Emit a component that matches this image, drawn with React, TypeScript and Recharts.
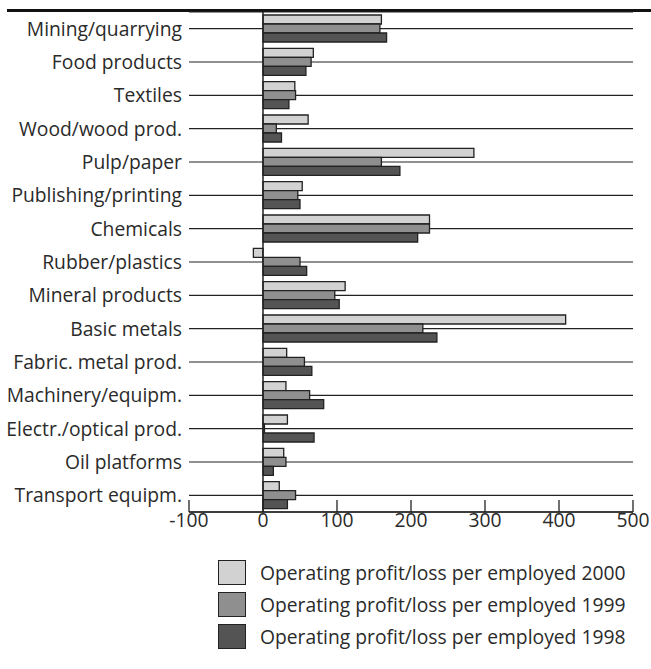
import { Bar, BarChart, CartesianGrid, Legend, ReferenceLine, XAxis, YAxis } from "recharts"

const industries = [
  "Mining/quarrying",
  "Food products",
  "Textiles",
  "Wood/wood prod.",
  "Pulp/paper",
  "Publishing/printing",
  "Chemicals",
  "Rubber/plastics",
  "Mineral products",
  "Basic metals",
  "Fabric. metal prod.",
  "Machinery/equipm.",
  "Electr./optical prod.",
  "Oil platforms",
  "Transport equipm.",
]

const profit2000 = [160, 68, 43, 61, 285, 53, 225, -13, 111, 409, 32, 31, 33, 28, 22]
const profit1999 = [158, 65, 44, 18, 160, 47, 225, 50, 97, 216, 56, 63, 2, 31, 44]
const profit1998 = [167, 58, 35, 25, 185, 50, 209, 59, 103, 235, 66, 82, 69, 14, 33]

const xTicks = [-100, 0, 100, 200, 300, 400, 500]

const data = industries.map((name, i) => ({
  name,
  p2000: profit2000[i],
  p1999: profit1999[i],
  p1998: profit1998[i],
}))

const FONT = "'Open Sans', 'Noto Sans', sans-serif"
const INK = "#222"
const TEXT = "#2a2a2a"
const FS = 19.3

function XTick({ x, y, payload }: any) {
  return (
    <g>
      <line x1={x} x2={x} y1={y - 2} y2={y - 14} stroke={INK} strokeWidth={1.3} />
      <text x={x} y={y} dy="0.68em" textAnchor="middle" fontSize={FS} fill={TEXT} fontFamily={FONT}>
        {payload.value}
      </text>
    </g>
  )
}

// recharts lists vertical bars bottom-up in the legend; the original goes 2000 → 1998
function LegendBox({ payload }: any) {
  const items = [...(payload || [])].sort((a: any, b: any) => (a.value < b.value ? 1 : -1))
  return (
    <div style={{ fontFamily: FONT, fontSize: FS, color: TEXT }}>
      {items.map((p: any) => (
        <div key={p.value} style={{ display: "flex", alignItems: "center", height: 32 }}>
          <span
            style={{
              display: "inline-block",
              width: 26,
              height: 23,
              background: p.color,
              border: `1.3px solid ${INK}`,
              marginRight: 14,
            }}
          />
          {p.value}
        </div>
      ))}
    </div>
  )
}

export default function App() {
  return (
    <div style={{ position: "absolute", left: 0, top: 0, width: 651, height: 669, background: "#fff" }}>
      <div style={{ position: "absolute", left: 7, right: 0, top: 9, height: 3, background: "#111" }} />
      <BarChart
        width={651}
        height={669}
        data={data}
        layout="vertical"
        margin={{ top: 12, right: 18, left: 0, bottom: 127 }}
        barCategoryGap="9%"
        barGap={0}
      >
        <CartesianGrid horizontal vertical={false} stroke={INK} strokeWidth={1.2} />
        <XAxis
          type="number"
          domain={[-100, 500]}
          ticks={xTicks}
          interval={0}
          height={30}
          tickSize={0}
          tickMargin={2}
          tickLine={false}
          axisLine={{ stroke: INK, strokeWidth: 1.5 }}
          tick={<XTick />}
        />
        <YAxis
          type="category"
          dataKey="name"
          width={189}
          interval={0}
          tickSize={0}
          tickMargin={7}
          tickLine={false}
          axisLine={false}
          tick={{ fontSize: FS, fill: TEXT, fontFamily: FONT }}
        />
        <ReferenceLine x={0} stroke={INK} strokeWidth={1.5} />
        <Legend
          layout="horizontal"
          verticalAlign="middle"
          align="center"
          wrapperStyle={{ top: 556, left: 218, width: "auto" }}
          content={<LegendBox />}
        />
        <Bar
          dataKey="p2000"
          name="Operating profit/loss per employed 2000"
          fill="#d2d2d2"
          stroke={INK}
          strokeWidth={1.3}
          isAnimationActive={false}
        />
        <Bar
          dataKey="p1999"
          name="Operating profit/loss per employed 1999"
          fill="#8f8f8f"
          stroke={INK}
          strokeWidth={1.3}
          isAnimationActive={false}
        />
        <Bar
          dataKey="p1998"
          name="Operating profit/loss per employed 1998"
          fill="#545454"
          stroke={INK}
          strokeWidth={1.3}
          isAnimationActive={false}
        />
      </BarChart>
    </div>
  )
}
